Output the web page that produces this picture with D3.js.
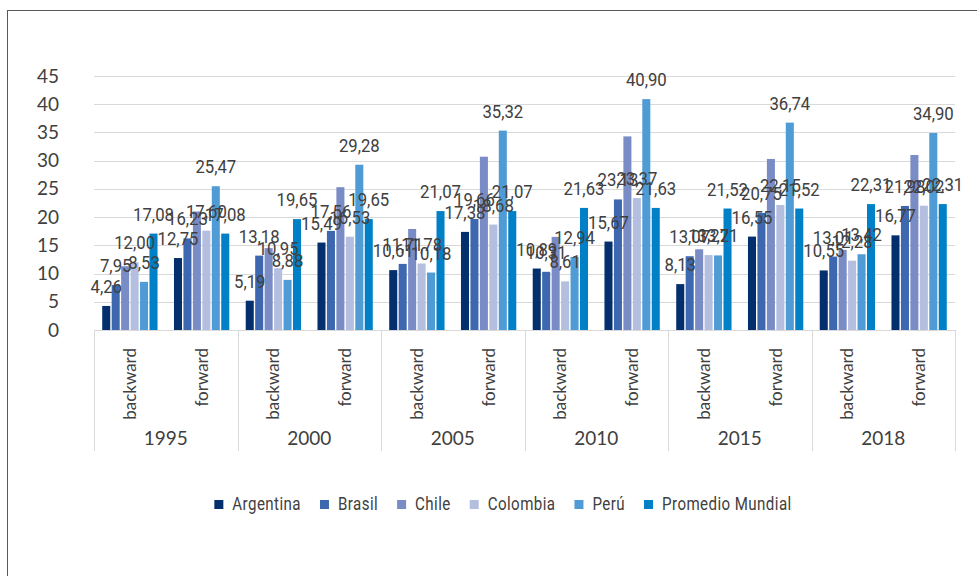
<!DOCTYPE html>
<html>
<head>
<meta charset="utf-8">
<script src="https://cdn.jsdelivr.net/npm/d3@7"></script>
<style>
  body { margin: 0; background: #fff; }
  text { fill: #404040; }
</style>
</head>
<body>
<script>
const years = ['1995', '2000', '2005', '2010', '2015', '2018'];
const kinds = ['backward', 'forward'];
const series = ['Argentina', 'Brasil', 'Chile', 'Colombia', 'Perú', 'Promedio Mundial'];
const colors = ['#032f6c', '#3d68b0', '#7a8cc6', '#b4bfe0', '#4f9bd6', '#0080c6'];
// Chile has no data labels in the original
const showLabel = [true, true, false, true, true, true];

// values per category: 1995 back, 1995 fwd, 2000 back, ...
const argentina = [4.26, 12.75, 5.19, 15.49, 10.61, 17.38, 10.89, 15.67, 8.13, 16.55, 10.55, 16.77];
const brasil    = [7.95, 16.23, 13.18, 17.56, 11.71, 19.66, 10.31, 23.13, 13.07, 20.75, 13.01, 21.98];
const chile     = [11.30, 21.00, 14.50, 25.30, 17.90, 30.70, 16.50, 34.30, 14.30, 30.30, 14.20, 31.00];
const colombia  = [12.00, 17.60, 10.95, 16.53, 11.78, 18.68, 8.61, 23.37, 13.27, 22.15, 12.28, 22.02];
const peru      = [8.53, 25.47, 8.88, 29.28, 10.18, 35.32, 12.94, 40.90, 13.21, 36.74, 13.42, 34.90];
const promedio  = [17.08, 17.08, 19.65, 19.65, 21.07, 21.07, 21.63, 21.63, 21.52, 21.52, 22.31, 22.31];
const values = [argentina, brasil, chile, colombia, peru, promedio];

const yTicks = [0, 5, 10, 15, 20, 25, 30, 35, 40, 45];

const W = 977, H = 576;
const plotLeft = 94, plotRight = 955, plotTop = 76, plotBottom = 330;
const narrow = 0.88;   // horizontal squeeze to fake the condensed font
const narrowLeg = 0.84;

const svg = d3.select('body').append('svg')
  .attr('width', W)
  .attr('height', H);

// outer frame (only left and top edges are visible)
svg.append('rect')
  .attr('x', 7.5).attr('y', 10.5)
  .attr('width', 1200).attr('height', 1200)
  .attr('fill', 'none')
  .attr('stroke', '#595959');

const cats = [];
years.forEach(yr => kinds.forEach(k => cats.push(yr + '|' + k)));

const x0 = d3.scaleBand().domain(cats).range([plotLeft, plotRight]);
const xYear = d3.scaleBand().domain(years).range([plotLeft, plotRight]);
const x1 = d3.scaleBand().domain(series).range([0, x0.bandwidth()])
  .paddingInner(0.15).paddingOuter(0.87);
const y = d3.scaleLinear().domain([0, 45]).range([plotBottom, plotTop]);

// gridlines
svg.append('g')
  .selectAll('line')
  .data(yTicks.filter(t => t > 0))
  .join('line')
  .attr('x1', plotLeft).attr('x2', plotRight)
  .attr('y1', d => Math.round(y(d)) + 0.5)
  .attr('y2', d => Math.round(y(d)) + 0.5)
  .attr('stroke', '#d9d9d9');

// y axis labels
const yAxis = svg.append('g')
  .attr('transform', `translate(59,0)`)
  .call(d3.axisLeft(y).tickValues(yTicks).tickSize(0).tickPadding(0));
yAxis.select('.domain').remove();
yAxis.selectAll('text')
  .attr('font-family', 'Lato, "Open Sans", sans-serif')
  .attr('font-size', 19)
  .attr('fill', '#404040');

// bars
const barG = svg.append('g');
series.forEach((s, si) => {
  barG.append('g')
    .selectAll('rect')
    .data(values[si])
    .join('rect')
    .attr('x', (d, i) => x0(cats[i]) + x1(s))
    .attr('width', x1.bandwidth())
    .attr('y', d => y(d))
    .attr('height', d => y(0) - y(d))
    .attr('fill', colors[si]);
});

// category axis: baseline and group separators
svg.append('line')
  .attr('x1', plotLeft).attr('x2', plotRight)
  .attr('y1', plotBottom + 0.5).attr('y2', plotBottom + 0.5)
  .attr('stroke', '#d9d9d9');

const seps = years.map(yr => xYear(yr)).concat([plotRight]);
svg.append('g')
  .selectAll('line')
  .data(seps)
  .join('line')
  .attr('x1', d => Math.round(d) + 0.5).attr('x2', d => Math.round(d) + 0.5)
  .attr('y1', plotBottom).attr('y2', 451)
  .attr('stroke', '#d9d9d9');

// sub-category labels (rotated)
svg.append('g')
  .selectAll('text')
  .data(cats)
  .join('text')
  .attr('transform', d => `translate(${x0(d) + x0.bandwidth() / 2 + 6},348) rotate(-90)`)
  .attr('text-anchor', 'end')
  .attr('font-family', 'Lato, "Open Sans", sans-serif')
  .attr('font-size', 17)
  .text(d => d.split('|')[1]);

// year labels
svg.append('g')
  .selectAll('text')
  .data(years)
  .join('text')
  .attr('x', d => xYear(d) + xYear.bandwidth() / 2)
  .attr('y', 445)
  .attr('text-anchor', 'middle')
  .attr('font-family', 'Lato, "Open Sans", sans-serif')
  .attr('font-size', 19)
  .text(d => d);

// data labels
const fmt = d3.format('.2f');
const labG = svg.append('g')
  .attr('font-family', 'Roboto, sans-serif')
  .attr('font-size', 19);
series.forEach((s, si) => {
  if (!showLabel[si]) return;
  labG.append('g')
    .selectAll('text')
    .data(values[si])
    .join('text')
    .attr('transform', (d, i) =>
      `translate(${x0(cats[i]) + x1(s) + x1.bandwidth() / 2},${y(d) - 13}) scale(${narrow},1)`)
    .attr('text-anchor', 'middle')
    .text(d => fmt(d).replace('.', ','));
});

// legend
const legend = svg.append('g')
  .attr('font-family', 'Roboto, sans-serif')
  .attr('font-size', 18)
  .attr('letter-spacing', 0.5);
let lx = 0;
series.forEach((s, si) => {
  const g = legend.append('g');
  g.append('rect')
    .attr('y', -10).attr('width', 9).attr('height', 9)
    .attr('fill', colors[si]);
  const t = g.append('text')
    .attr('transform', `translate(18,0) scale(${narrowLeg},1)`)
    .text(s);
  const w = 18 + t.node().getComputedTextLength() * narrowLeg;
  g.attr('transform', `translate(${lx},0)`);
  lx += w + 19;
});
const legendW = lx - 19;
legend.attr('transform', `translate(${503 - legendW / 2},510)`);
</script>
</body>
</html>
